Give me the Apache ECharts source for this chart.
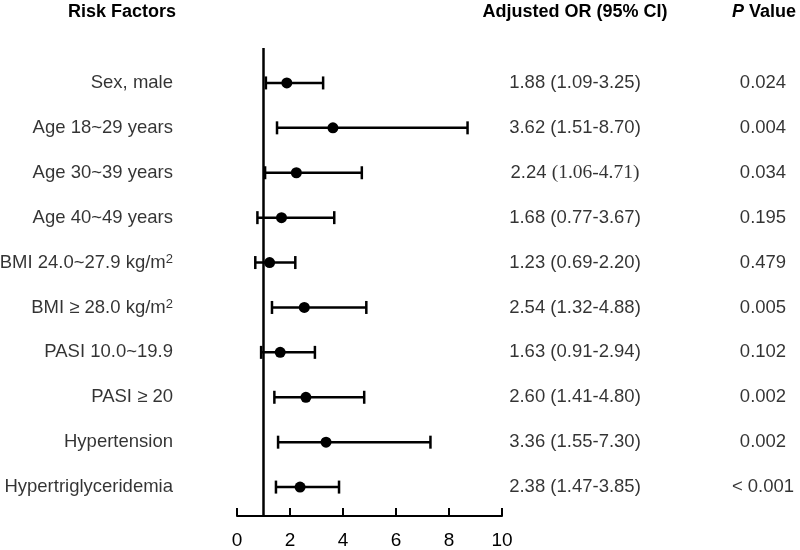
<!DOCTYPE html>
<html><head><meta charset="utf-8">
<script src="https://cdn.jsdelivr.net/npm/echarts@6/dist/echarts.min.js"></script>
<style>html,body{margin:0;padding:0;background:#fff}#c{width:800px;height:550px}</style>
</head><body><div id="c"></div>
<script>
var factors = ['Sex, male','Age 18~29 years','Age 30~39 years','Age 40~49 years','BMI 24.0~27.9 kg/m²','BMI ≥ 28.0 kg/m²','PASI 10.0~19.9','PASI ≥ 20','Hypertension','Hypertriglyceridemia'];
var orVals = [1.88,3.62,2.24,1.68,1.23,2.54,1.63,2.60,3.36,2.38];
var ciLow = [1.09,1.51,1.06,0.77,0.69,1.32,0.91,1.41,1.55,1.47];
var ciHigh = [3.25,8.70,4.71,3.67,2.20,4.88,2.94,4.80,7.30,3.85];
var pText = ['0.024','0.004','0.034','0.195','0.479','0.005','0.102','0.002','0.002','< 0.001'];
var ciSerif = [false,false,true,false,false,false,false,false,false,false];
var xTicks = [0,2,4,6,8,10];

var FONT = 'Liberation Sans, Arial, sans-serif';
var FS = 18.5;
var chart = echarts.init(document.getElementById('c'));
var idx = factors.map(function(_, i){ return i; });

function rowPts(x){ return idx.map(function(i){ return [x, i]; }); }

chart.setOption({
  animation: false,
  grid: {left: 237, right: 298, top: 48, bottom: 33},
  xAxis: {
    type: 'value', min: 0, max: 10, interval: 2, position: 'bottom',
    axisLine: {show: true, onZero: false, lineStyle: {color: '#000', width: 2}},
    axisTick: {show: true, inside: true, length: 8, lineStyle: {color: '#000', width: 2}},
    axisLabel: {color: '#000', fontSize: 19, fontFamily: FONT, margin: 15,
      formatter: function(v){ return xTicks.indexOf(v) >= 0 ? String(v) : ''; }},
    splitLine: {show: false}
  },
  yAxis: {type: 'value', inverse: true, min: -0.778, max: 9.644, show: false},
  graphic: [
    {type: 'text', x: 122, y: 12, style: {text: 'Risk Factors', font: 'bold 18px ' + FONT, fill: '#000', textAlign: 'center', textVerticalAlign: 'middle'}},
    {type: 'text', x: 575, y: 12, style: {text: 'Adjusted OR (95% CI)', font: 'bold 18px ' + FONT, fill: '#000', textAlign: 'center', textVerticalAlign: 'middle'}},
    {type: 'text', x: 764, y: 12, style: {text: '{i|P} Value', font: 'bold 18px ' + FONT, fill: '#000', textAlign: 'center', textVerticalAlign: 'middle',
      rich: {i: {fontStyle: 'italic', fontWeight: 'bold', fontSize: 18, fontFamily: FONT}}}}
  ],
  series: [
    {
      type: 'custom', silent: true,
      data: idx.map(function(i){ return [ciLow[i], ciHigh[i], i]; }),
      renderItem: function(params, api){
        var a = api.coord([api.value(0), api.value(2)]);
        var b = api.coord([api.value(1), api.value(2)]);
        var h = 6.5;
        var st = {stroke: '#000', lineWidth: 2.5};
        return {type: 'group', children: [
          {type: 'line', shape: {x1: a[0], y1: a[1], x2: b[0], y2: b[1]}, style: st},
          {type: 'line', shape: {x1: a[0], y1: a[1]-h, x2: a[0], y2: a[1]+h}, style: st},
          {type: 'line', shape: {x1: b[0], y1: b[1]-h, x2: b[0], y2: b[1]+h}, style: st}
        ]};
      },
      markLine: {
        silent: true, symbol: 'none', label: {show: false},
        lineStyle: {color: '#000', width: 2.5, type: 'solid', opacity: 1},
        data: [{xAxis: 1}]
      }
    },
    {
      type: 'scatter', silent: true, symbol: 'circle', symbolSize: 11,
      itemStyle: {color: '#000', opacity: 1},
      data: idx.map(function(i){ return [orVals[i], i]; })
    },
    {
      type: 'scatter', silent: true, symbolSize: 0, clip: false,
      data: rowPts(0),
      label: {show: true, position: 'left', distance: 64, color: '#000', fontSize: FS, fontFamily: FONT,
        formatter: function(p){ return factors[p.dataIndex].replace('²', '{sup|2}'); },
        rich: {sup: {fontSize: 13, fontFamily: FONT, color: '#000', verticalAlign: 'top', lineHeight: 13}}}
    },
    {
      type: 'scatter', silent: true, symbolSize: 0, clip: false,
      data: rowPts(10),
      label: {show: true, position: 'inside', align: 'center', offset: [73, 0], color: '#000', fontSize: FS, fontFamily: FONT,
        formatter: function(p){
          var i = p.dataIndex;
          var ci = '(' + ciLow[i].toFixed(2) + '-' + ciHigh[i].toFixed(2) + ')';
          return orVals[i].toFixed(2) + ' ' + (ciSerif[i] ? '{s|' + ci + '}' : ci);
        },
        rich: {s: {fontFamily: 'Liberation Serif, Times New Roman, serif', fontSize: 19.5, color: '#000'}}}
    },
    {
      type: 'scatter', silent: true, symbolSize: 0, clip: false,
      data: rowPts(10),
      label: {show: true, position: 'inside', align: 'center', offset: [261, 0], color: '#000', fontSize: FS, fontFamily: FONT,
        formatter: function(p){ return pText[p.dataIndex]; }}
    }
  ]
});
</script></body></html>
